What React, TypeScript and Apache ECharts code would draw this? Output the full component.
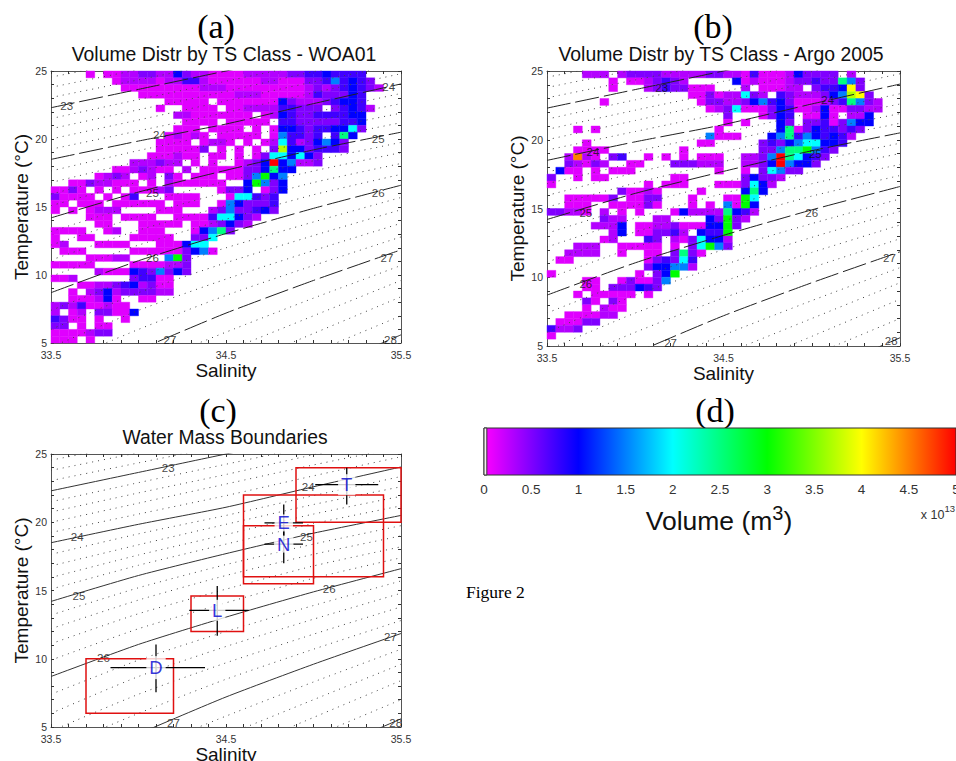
import React, { useEffect, useRef } from "react";
import * as echarts from "echarts";

const SANS = "'Liberation Sans', Arial, sans-serif";
const SERIF = "'Liberation Serif', 'Times New Roman', serif";

// ---- Levels of the volume classes (in units of 1e13 m3), keyed by the letters used in the rows
const LEVELS: Record<string, number> = { a: 0.12, b: 0.3, c: 0.5, d: 0.75, e: 1.0, f: 1.5, g: 2.0, h: 2.5, i: 3.0, j: 3.7, k: 4.0, m: 4.5, n: 5.0 };
const SAL_STEP = 0.05;
const TEMP_STEP = 0.5;

// Panel (a): rows from T = 25 downwards, columns from S = 33.5 rightwards
const WOA_ROWS = [
  "....a.aabbccbbecbbaaaabbbbbccddedddd....",
  ".......abbbbabbddbaaaaaabbaaaccdfdedc...",
  "........aaaaaaaaabbbaaaaaaaaabcbcdedcb..",
  "..........aaaaaaaaaaabbbaaaaabdccced....",
  ".............aaaaa.aaaaaaaecbbbcdeed....",
  "............a..aaaa.aabbbbddccc.cdedb...",
  "..............bbaaaaaaa.abedccddddee....",
  "...............aaaa.aaaaa.ddcccccdde....",
  "..............aaa.aaaa.a.aeedcddeegc....",
  ".............ababa.aaaaa.afddcd.dhe.....",
  "............aaaa.abba.a.abgdbcefec......",
  "............aaaaac.a.a.a.cjeecdddc......",
  "...........aaabaa.aa.a.acggegec.........",
  ".........bbbcbb.a.a..abcenefbbc.........",
  ".......aabcbaa.b.aaaaaccehee............",
  ".....abcb.ab.ca.aaa.aacfief.............",
  "..aacbbaaa.a.baaaaaa..eifce.............",
  "aaca.a.a.aaabc.....acce.ace.............",
  "caaaa.a.ad...aaaa...aggdcd..............",
  "aa.aaa.aaaaaa.aaa..afecccd..............",
  "a.a.abbb....aaa...bcfccdec..............",
  "....aaa.aaaa..aaaadggecb................",
  ".....aa...aaaaa.aabcecb.................",
  "aaaa..ab..aaa...aefhc...................",
  "a..aa....aaaaa..ccg.....................",
  "ab...aaaa...aaaegg......................",
  ".aaa.....aaaaaacefa.....................",
  "....aaabb....fic........................",
  "aaaaa....aaaabbc........................",
  ".....baaaedcfcec........................",
  "aab......cddaa..........................",
  "...aabbcdebcaa..........................",
  "..a.bcebccccbb..........................",
  "..aaabea..aa............................",
  "bcbdaabaa...............................",
  "b.ab.ccaae..............................",
  "dcaa.a..a...............................",
  "cc.a.aa.................................",
  "aaaabcc.................................",
  "aaa.a...................................",
];

// Panel (b)
const ARGO_ROWS = [
  "....bbb.bccccbbbbbccbbadaaabecccc.b.....",
  ".......a.aabcdcb.....eabaaabccdcchfc....",
  ".......a...bcdccaaa...b.aaabb.cddekc....",
  "................aacabbgcb.dcbbbcefjkc...",
  "......a..........accbbcefdecaaabcdhfcb..",
  "..................abcgaaacedaabeaaccbb..",
  "....................c...aced.aaea.bbe...",
  "....................a.a...ec.ccdacfee...",
  "...a.a.............a......ehaceddcdc....",
  "..................faaa...efhdfededb.....",
  "....a............aa.....cdcefggeed......",
  "...aaaa........a........ccfhhifdc.......",
  "..bmba.cd..a.a.a.aaa..bbcfnhgedc........",
  "..cbacb..aa...cccbbb..bbcenfeec.........",
  ".eaa.a.aaa.........a..a.cgfcc...........",
  "c..a.aa.......aa......ceccb.............",
  "a..........a.aaa...aaacgeb..............",
  "........caaba....a....ehe...............",
  "..aaaaac.aacc...a...aaig................",
  "..aaa..aaaaca...a.a.faie................",
  "ccbba.b.a.a...aebbbbhedb................",
  "......cbb...bb....ecicb.................",
  ".....bbbe.aabbcaaaeeic..................",
  ".......be.aaccdb.eddi...................",
  "......ab...dc.bacgeeb...................",
  "...bbb..aaaaa.a.cgifc...................",
  "..bbbb..a..aa.chca......................",
  ".aa........acdcgd.......................",
  "...........ceeffb.......................",
  "a.........a.cei.........................",
  "....aa..acaacf..........................",
  "....aa.cccedc...........................",
  "...a.aaaaa.a............................",
  "....ca.ca...............................",
  "....a.baa...............................",
  "..aaaabb................................",
  ".aaacc..................................",
  "dbbc....................................",
  "a.......................................",
];

// ---- Density contours, as temperature read at these salinities
const STATIONS = [33.5, 34.0, 34.5, 35.0, 35.5];
const MAJOR_CONTOURS = [
  [22.3, 23.65, 25.0, 26.3, 27.6],
  [18.5, 19.85, 21.1, 22.6, 24.05],
  [14.2, 16.1, 17.7, 19.2, 20.5],
  [8.7, 11.05, 13.05, 14.9, 16.6],
  [1.8, 4.5, 7.2, 9.6, 11.85],
  [-6.5, -3.0, 0.0, 2.8, 5.6],
];
const MINOR_CONTOURS = [
  [24.55, 25.8, 27.1, 28.4, 29.6],
  [23.8, 25.1, 26.4, 27.7, 28.9],
  [23.05, 24.35, 25.65, 27.0, 28.2],
  [21.5, 22.9, 24.25, 25.6, 26.9],
  [20.75, 22.15, 23.5, 24.95, 26.2],
  [20.0, 21.4, 22.8, 24.2, 25.5],
  [19.25, 20.6, 21.95, 23.4, 24.8],
  [17.65, 19.15, 20.5, 21.95, 23.35],
  [16.8, 18.35, 19.85, 21.3, 22.6],
  [15.95, 17.6, 19.1, 20.6, 21.9],
  [15.1, 16.85, 18.4, 19.9, 21.2],
  [13.2, 15.2, 16.9, 18.4, 19.75],
  [12.2, 14.3, 16.1, 17.65, 19.0],
  [11.1, 13.3, 15.1, 16.8, 18.2],
  [9.9, 12.2, 14.1, 15.9, 17.4],
  [7.4, 9.9, 12.0, 13.9, 15.7],
  [6.0, 8.7, 10.9, 12.9, 14.8],
  [4.7, 7.4, 9.7, 11.8, 13.8],
  [3.3, 6.0, 8.5, 10.7, 12.8],
  [0.5, 3.2, 5.8, 8.3, 10.7],
  [-1.0, 1.8, 4.4, 7.0, 9.6],
  [-2.5, 0.3, 3.0, 5.7, 8.4],
  [-4.0, -1.2, 1.5, 4.3, 7.0],
  [-7.5, -4.5, -1.5, 1.3, 4.1],
];

// Contour labels: salinity, temperature, text
const LABELS_A: [number, number, string][] = [
  [33.59, 22.4, "23"], [34.12, 20.3, "24"], [34.08, 16.0, "25"], [34.08, 11.25, "26"], [34.18, 5.2, "27"],
  [35.43, 23.8, "24"], [35.37, 20.0, "25"], [35.37, 16.0, "26"], [35.42, 11.25, "27"], [35.44, 5.2, "28"],
];
const LABELS_B: [number, number, string][] = [
  [34.15, 23.8, "23"], [33.76, 19.1, "24"], [35.09, 22.9, "24"], [33.72, 14.7, "25"], [35.02, 19.0, "25"],
  [35.0, 14.7, "26"], [33.72, 9.5, "26"], [34.2, 5.2, "27"], [35.44, 11.4, "27"], [35.45, 5.4, "28"],
];
const LABELS_C: [number, number, string][] = [
  [34.17, 24.0, "23"], [33.65, 18.9, "24"], [34.97, 22.6, "24"], [33.66, 14.6, "25"], [34.96, 18.9, "25"],
  [35.09, 15.1, "26"], [33.8, 10.07, "26"], [34.2, 5.3, "27"], [35.44, 11.6, "27"], [35.47, 5.3, "28"],
];

// Water mass boxes: S low, S high, T low, T high
const BOXES = [
  [34.9, 35.5, 20, 24],
  [34.6, 35.4, 16, 22],
  [34.6, 35.0, 15.5, 19.75],
  [34.3, 34.6, 12, 14.6],
  [33.7, 34.2, 6, 10],
];
// Crosses: S, T, S low, S high, T low, T high
const CROSSES = [
  [35.19, 22.75, 35.01, 35.37, 21.3, 24],
  [34.83, 19.95, 34.72, 34.94, 19.0, 21.3],
  [34.83, 18.4, 34.72, 34.94, 17.0, 19.4],
  [34.45, 13.55, 34.29, 34.63, 11.68, 15.33],
  [34.1, 9.35, 33.84, 34.38, 7.55, 11.05],
];
const CROSS_LETTERS = ["T", "E", "N", "L", "D"];
const CROSS_LETTER_PADDING = [2, 0, 0, 2, 3];

const SAL_TICK_LABELS = [33.5, 34.5, 35.5];
const TEMP_TICK_LABELS = [5, 10, 15, 20, 25];
const COLOR_STOPS = ["#ff00ff", "#0000ff", "#00ffff", "#00ff00", "#ffff00", "#ff0000"];
const COLORBAR_RANGE = [0, 5];
const COLORBAR_WHITE_END = 0.03;

const GRIDS = [
  { left: 51, top: 71, width: 350, height: 272 },
  { left: 547, top: 71, width: 353, height: 275 },
  { left: 51, top: 454, width: 350, height: 273 },
  { left: 484, top: 428, width: 472, height: 47 },
];
const SALINITY_NAME_GAPS = [16, 16, 11];

function cellsFrom(rows: string[]) {
  const out: number[][] = [];
  rows.forEach((row, r) => {
    for (let c = 0; c < row.length; c++) {
      const v = LEVELS[row[c]];
      if (v !== undefined) out.push([33.5 + SAL_STEP * c, 25 - TEMP_STEP * (r + 1), v]);
    }
  });
  return out;
}

function heatSeries(rows: string[], axis: number) {
  return {
    type: "custom",
    xAxisIndex: axis,
    yAxisIndex: axis,
    data: cellsFrom(rows),
    encode: { x: 0, y: 1 },
    silent: true,
    renderItem: (_: any, api: any) => {
      const p0 = api.coord([api.value(0), api.value(1)]);
      const p1 = api.coord([api.value(0) + SAL_STEP, api.value(1) + TEMP_STEP]);
      const color = api.visual("color");
      return {
        type: "rect",
        shape: { x: p0[0], y: p1[1], width: p1[0] - p0[0], height: p0[1] - p1[1] },
        style: { fill: color, stroke: color, lineWidth: 0.4 },
      };
    },
  };
}

function contourSeries(axis: number, majorDash: any, majorColor: string) {
  const toPts = (ts: number[]) => ts.map((t, i) => [STATIONS[i], t]);
  const minor = MINOR_CONTOURS.map((ts) => ({
    type: "line",
    xAxisIndex: axis,
    yAxisIndex: axis,
    data: toPts(ts),
    smooth: 0.2,
    symbol: "none",
    silent: true,
    lineStyle: { color: "#444", width: 1, type: [1, 5] },
  }));
  const major = MAJOR_CONTOURS.map((ts) => ({
    type: "line",
    xAxisIndex: axis,
    yAxisIndex: axis,
    data: toPts(ts),
    smooth: 0.2,
    symbol: "none",
    silent: true,
    lineStyle: { color: majorColor, width: 1, type: majorDash },
  }));
  return [...minor, ...major];
}

function labelSeries(labels: [number, number, string][], axis: number) {
  return {
    type: "scatter",
    xAxisIndex: axis,
    yAxisIndex: axis,
    data: labels,
    symbolSize: 1,
    silent: true,
    itemStyle: { color: "transparent" },
    label: {
      show: true,
      position: "inside",
      formatter: (p: any) => p.value[2],
      fontFamily: SANS,
      fontSize: 11.5,
      color: "#111",
    },
    z: 5,
  };
}

function panelAxes(grid: number) {
  const near = (list: number[], v: number) => list.some((x) => Math.abs(x - v) < 1e-6);
  const tick = { show: true, inside: true, length: 3, lineStyle: { color: "#333", width: 1 } };
  const line = { show: true, onZero: false, lineStyle: { color: "#555", width: 1 } };
  const x = {
    type: "value", gridIndex: grid, min: 33.5, max: 35.5, interval: 0.1, position: "bottom",
    splitLine: { show: false }, axisTick: tick, axisLine: line,
    name: "Salinity", nameLocation: "middle", nameGap: SALINITY_NAME_GAPS[grid],
    nameTextStyle: { fontFamily: SANS, fontSize: 19, color: "#111" },
    axisLabel: {
      show: true, margin: 6, fontFamily: SANS, fontSize: 10.5, color: "#333", hideOverlap: false,
      formatter: (v: number) => (near(SAL_TICK_LABELS, v) ? String(Math.round(v * 10) / 10) : ""),
    },
  };
  const y = {
    type: "value", gridIndex: grid, min: 5, max: 25, interval: 1, position: "left",
    splitLine: { show: false }, axisTick: tick, axisLine: line,
    name: "Temperature (°C)", nameLocation: "middle", nameGap: 19, nameRotate: 90,
    nameTextStyle: { fontFamily: SANS, fontSize: 19, color: "#111" },
    axisLabel: {
      show: true, margin: 4, fontFamily: SANS, fontSize: 10.5, color: "#333", hideOverlap: false,
      formatter: (v: number) => (near(TEMP_TICK_LABELS, v) ? String(v) : ""),
    },
  };
  const xTop = {
    type: "value", gridIndex: grid, min: 33.5, max: 35.5, interval: 0.1, position: "top",
    splitLine: { show: false }, axisTick: tick, axisLine: line, axisLabel: { show: false },
  };
  const yRight = {
    type: "value", gridIndex: grid, min: 5, max: 25, interval: 1, position: "right",
    splitLine: { show: false }, axisTick: tick, axisLine: line, axisLabel: { show: false },
  };
  return { x, y, xTop, yRight };
}

function text(t: string, x: number, y: number, font: string, size: number, color = "#000", align = "center") {
  return {
    type: "text",
    x,
    y,
    silent: true,
    style: { text: t, font: `${size}px ${font}`, fill: color, align, verticalAlign: "middle" },
  };
}

export default function App() {
  const ref = useRef<HTMLDivElement>(null);
  useEffect(() => {
    const chart = echarts.init(ref.current!, undefined, { renderer: "svg" });
    const ax = [panelAxes(0), panelAxes(1), panelAxes(2)];

    const xAxis: any[] = [
      ax[0].x, ax[1].x, ax[2].x,
      {
        type: "value", gridIndex: 3, min: COLORBAR_RANGE[0], max: COLORBAR_RANGE[1], interval: 0.5,
        splitLine: { show: false }, axisTick: { show: false }, axisLine: { show: false },
        axisLabel: { margin: 7, fontFamily: SANS, fontSize: 13.5, color: "#333", hideOverlap: false },
      },
      ax[0].xTop, ax[1].xTop, ax[2].xTop,
    ];
    const yAxis: any[] = [
      ax[0].y, ax[1].y, ax[2].y,
      { type: "value", gridIndex: 3, min: 0, max: 1, show: false, splitLine: { show: false } },
      ax[0].yRight, ax[1].yRight, ax[2].yRight,
    ];

    const series: any[] = [
      heatSeries(WOA_ROWS, 0),
      heatSeries(ARGO_ROWS, 1),
      ...contourSeries(0, [24, 5], "#222"),
      ...contourSeries(1, [24, 5], "#222"),
      ...contourSeries(2, "solid", "#333"),
      labelSeries(LABELS_A, 0),
      labelSeries(LABELS_B, 1),
      labelSeries(LABELS_C, 2),
      {
        type: "custom",
        xAxisIndex: 2,
        yAxisIndex: 2,
        data: BOXES,
        encode: { x: [0, 1], y: [2, 3] },
        silent: true,
        z: 6,
        renderItem: (_: any, api: any) => {
          const a = api.coord([api.value(0), api.value(3)]);
          const b = api.coord([api.value(1), api.value(2)]);
          return {
            type: "rect",
            shape: { x: a[0], y: a[1], width: b[0] - a[0], height: b[1] - a[1] },
            style: { fill: "none", stroke: "#e01010", lineWidth: 1.5 },
          };
        },
      },
      {
        type: "custom",
        xAxisIndex: 2,
        yAxisIndex: 2,
        data: CROSSES,
        encode: { x: 0, y: 1 },
        silent: true,
        z: 7,
        renderItem: (_: any, api: any) => {
          const h0 = api.coord([api.value(2), api.value(1)]);
          const h1 = api.coord([api.value(3), api.value(1)]);
          const v0 = api.coord([api.value(0), api.value(4)]);
          const v1 = api.coord([api.value(0), api.value(5)]);
          const style = { stroke: "#000", lineWidth: 1.3, fill: "none" };
          return {
            type: "group",
            children: [
              { type: "line", shape: { x1: h0[0], y1: h0[1], x2: h1[0], y2: h1[1] }, style },
              { type: "line", shape: { x1: v0[0], y1: v0[1], x2: v1[0], y2: v1[1] }, style },
            ],
          };
        },
      },
      {
        type: "scatter",
        xAxisIndex: 2,
        yAxisIndex: 2,
        data: CROSSES.map((c, i) => ({
          value: [c[0], c[1], CROSS_LETTERS[i]],
          label: { padding: [CROSS_LETTER_PADDING[i], 3] },
        })),
        symbolSize: 1,
        silent: true,
        z: 8,
        itemStyle: { color: "transparent" },
        label: {
          show: true,
          position: "inside",
          formatter: (p: any) => p.value[2],
          fontFamily: SANS,
          fontSize: 18.5,
          lineHeight: 17,
          color: "#0000d0",
          backgroundColor: "#fff",
        },
      },
      {
        type: "custom",
        xAxisIndex: 3,
        yAxisIndex: 3,
        data: [COLORBAR_RANGE],
        encode: { x: [0, 1] },
        silent: true,
        renderItem: (_: any, api: any) => {
          const a = api.coord([api.value(0), 1]);
          const b = api.coord([api.value(1), 0]);
          const w = api.coord([COLORBAR_WHITE_END, 0]);
          const stops = COLOR_STOPS.map((color, i) => ({ offset: i / (COLOR_STOPS.length - 1), color }));
          return {
            type: "group",
            children: [
              {
                type: "rect",
                shape: { x: a[0], y: a[1], width: b[0] - a[0], height: b[1] - a[1] },
                style: {
                  fill: new echarts.graphic.LinearGradient(0, 0, 1, 0, stops),
                  stroke: "#333",
                  lineWidth: 1,
                },
              },
              {
                type: "rect",
                shape: { x: a[0], y: a[1], width: w[0] - a[0], height: b[1] - a[1] },
                style: { fill: "#f4f0f0", stroke: "#333", lineWidth: 1 },
              },
            ],
          };
        },
      },
    ];

    chart.setOption({
      animation: false,
      backgroundColor: "#fff",
      grid: GRIDS.map((g) => ({ ...g, containLabel: false, show: false, outerBoundsMode: "none" })),
      xAxis,
      yAxis,
      visualMap: {
        show: false,
        type: "continuous",
        min: COLORBAR_RANGE[0],
        max: COLORBAR_RANGE[1],
        dimension: 2,
        seriesIndex: [0, 1],
        inRange: { color: COLOR_STOPS },
      },
      series,
      graphic: [
        text("(a)", 216, 26, SERIF, 34),
        text("(b)", 713, 26, SERIF, 34),
        text("(c)", 218, 410, SERIF, 34),
        text("(d)", 715, 410, SERIF, 34),
        text("Volume Distr by TS Class - WOA01", 224, 54, SANS, 19.4, "#111"),
        text("Volume Distr by TS Class - Argo 2005", 721, 54, SANS, 19.4, "#111"),
        text("Water Mass Boundaries", 225, 437, SANS, 19.3, "#111"),
        text("Figure 2", 466, 592, SERIF, 17.5, "#000", "left"),
        {
          type: "text",
          x: 719,
          y: 521,
          silent: true,
          style: {
            text: "{a|Volume (m}{s|3}{a|)}",
            align: "center",
            verticalAlign: "middle",
            rich: {
              a: { fontFamily: SANS, fontSize: 26.5, fill: "#111", color: "#111", lineHeight: 36 },
              s: { fontFamily: SANS, fontSize: 20, fill: "#111", color: "#111", verticalAlign: "top", lineHeight: 18 },
            },
          },
        },
        {
          type: "text",
          x: 955,
          y: 512,
          silent: true,
          style: {
            text: "{a|x 10}{s|13}",
            align: "right",
            verticalAlign: "middle",
            rich: {
              a: { fontFamily: SANS, fontSize: 12.5, fill: "#333", color: "#333", lineHeight: 18, verticalAlign: "bottom" },
              s: { fontFamily: SANS, fontSize: 9.5, fill: "#333", color: "#333", lineHeight: 12, verticalAlign: "top" },
            },
          },
        },
      ],
    });
    return () => chart.dispose();
  }, []);
  return (
    <div
      ref={ref}
      style={{ position: "absolute", left: 0, top: 0, width: 956, height: 761, background: "#fff" }}
    />
  );
}
